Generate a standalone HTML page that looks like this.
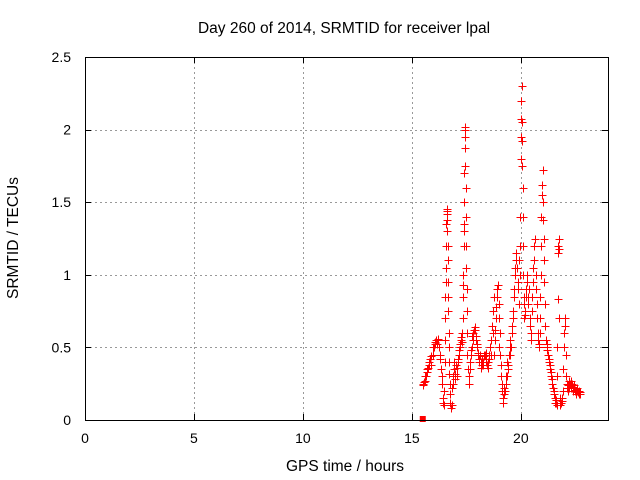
<!DOCTYPE html>
<html><head><meta charset="utf-8"><style>
body{margin:0;background:#fff}
svg{display:block;font-family:"Liberation Sans",sans-serif}
</style></head><body>
<svg id="chart" width="640" height="480" viewBox="0 0 640 480">
<rect width="640" height="480" fill="#fff"/>
<text x="344" y="33" font-size="15.5" text-anchor="middle">Day 260 of 2014, SRMTID for receiver lpal</text>
<text transform="translate(18,238) rotate(-90)" font-size="15.5" text-anchor="middle">SRMTID / TECUs</text>
<text x="345" y="471" font-size="15.5" text-anchor="middle">GPS time / hours</text>
<g id="grid"></g>
<g id="ticks"></g>
<g id="marks"></g>
<rect x="85.5" y="57.5" width="523" height="363" fill="none" stroke="#000" stroke-width="1"/>
</svg>
<script>
const xTicks=[0,5,10,15,20];
const yTicks=[0,0.5,1,1.5,2,2.5];
const yTickLabels=["0","0.5","1","1.5","2","2.5"];
const times=[15.5,15.55,15.6,15.65,15.7,15.75,15.8,15.85,15.9,15.95,16.0,16.05,16.1,16.15,16.2,16.25,16.3,16.35,16.4,16.43,16.46,16.49,16.51,16.53,16.55,16.57,16.59,16.61,16.63,16.65,16.67,16.69,16.71,16.73,16.76,16.79,16.82,16.85,16.9,16.95,17.0,17.05,17.1,17.15,17.2,17.25,17.3,17.33,17.36,17.39,17.41,17.43,17.45,17.47,17.49,17.51,17.53,17.56,17.6,17.65,17.7,17.75,17.8,17.85,17.9,17.95,18.0,18.05,18.1,18.15,18.2,18.25,18.3,18.35,18.4,18.45,18.5,18.55,18.6,18.65,18.7,18.75,18.8,18.85,18.9,18.95,19.0,19.03,19.06,19.1,19.15,19.2,19.25,19.3,19.35,19.4,19.45,19.5,19.55,19.6,19.65,19.7,19.75,19.8,19.85,19.9,19.95,19.98,20.0,20.02,20.04,20.06,20.08,20.1,20.13,20.16,20.2,20.25,20.3,20.35,20.4,20.45,20.5,20.55,20.6,20.65,20.7,20.75,20.8,20.85,20.88,20.91,20.94,20.97,21.0,21.03,21.06,21.1,21.15,21.2,21.25,21.3,21.35,21.4,21.45,21.5,21.55,21.6,21.65,21.68,21.7,21.72,21.74,21.77,21.8,21.85,21.9,21.95,22.0,22.03,22.06,22.1,22.15,22.2,22.25,22.3,22.35,22.4,22.45,22.5,22.55,22.6,22.65,22.7];
const values=[0.24,0.26,0.27,0.3,0.33,0.36,0.4,0.42,0.38,0.45,0.5,0.54,0.55,0.52,0.56,0.5,0.42,0.35,0.25,0.15,0.1,0.2,0.4,0.7,0.95,1.2,1.45,1.42,1.3,1.1,0.85,0.6,0.4,0.25,0.12,0.08,0.1,0.22,0.3,0.35,0.32,0.36,0.4,0.45,0.5,0.55,0.54,0.7,1.0,1.35,1.7,2.02,1.95,1.6,1.2,0.9,0.6,0.35,0.25,0.35,0.45,0.5,0.55,0.62,0.64,0.55,0.5,0.46,0.42,0.4,0.38,0.4,0.44,0.45,0.42,0.38,0.4,0.45,0.5,0.55,0.6,0.45,0.55,0.7,0.85,0.93,0.8,0.6,0.45,0.3,0.2,0.15,0.18,0.25,0.3,0.35,0.45,0.55,0.5,0.6,0.75,0.9,1.05,1.1,0.95,0.8,1.0,1.4,1.8,2.2,2.3,2.05,1.6,1.2,0.85,0.7,0.75,0.9,1.0,0.85,0.7,0.6,0.75,0.95,1.1,1.25,1.0,0.7,0.55,0.5,0.7,1.0,1.4,1.62,1.72,1.5,1.1,0.8,0.55,0.5,0.45,0.4,0.35,0.3,0.25,0.2,0.15,0.12,0.1,0.5,0.83,1.2,1.25,0.7,0.15,0.12,0.15,0.35,0.6,0.7,0.45,0.25,0.2,0.22,0.25,0.27,0.25,0.23,0.22,0.2,0.19,0.2,0.18,0.19];
const times2=[16.52,16.54,16.56,16.58,16.6,16.62,16.64,16.66,16.68,16.7,16.72,16.74,17.32,17.34,17.35,17.37,17.38,17.4,17.42,17.44,17.46,17.48,17.5,17.52,17.54,15.52,15.58,15.68,15.78,15.88,15.98,16.08,16.18,16.28,16.38,16.45,16.87,16.92,16.97,17.02,17.08,17.12,17.18,17.22,17.27,17.62,17.68,17.72,17.78,17.82,17.88,17.92,17.98,18.02,18.08,18.12,18.18,18.22,18.28,18.32,18.38,18.42,18.48,18.52,18.58,18.62,18.68,18.72,18.78,18.82,18.88,18.92,18.98,19.02,19.08,19.12,19.18,19.22,19.28,19.32,19.38,19.42,19.48,19.52,19.58,19.62,19.68,19.72,19.78,19.82,19.88,19.92,19.96,20.01,20.03,20.05,20.07,20.09,20.12,20.15,20.18,20.22,20.28,20.32,20.38,20.42,20.48,20.52,20.58,20.62,20.68,20.72,20.78,20.82,20.86,20.9,20.93,20.96,20.99,21.02,21.05,21.08,21.12,21.18,21.22,21.28,21.32,21.38,21.42,21.48,21.52,21.58,21.62,21.66,21.71,21.73,21.82,21.88,21.92,21.97,22.02,22.08,22.12,22.18,22.22,22.28,22.32,22.38,22.42,22.48,22.52,22.58,22.62,22.68,22.72];
const values2=[0.55,0.85,1.05,1.35,1.44,1.38,1.2,0.95,0.75,0.5,0.32,0.18,0.6,0.85,0.93,1.2,1.3,1.5,1.87,2.0,1.75,1.4,1.05,0.75,0.45,0.25,0.3,0.35,0.38,0.44,0.5,0.52,0.55,0.45,0.3,0.12,0.25,0.4,0.28,0.38,0.3,0.42,0.48,0.52,0.57,0.3,0.4,0.48,0.58,0.6,0.62,0.58,0.52,0.45,0.4,0.45,0.36,0.42,0.38,0.45,0.4,0.46,0.36,0.42,0.5,0.45,0.65,0.75,0.85,0.62,0.78,0.9,0.7,0.5,0.38,0.25,0.12,0.22,0.2,0.3,0.4,0.38,0.5,0.45,0.65,0.7,0.85,1.0,1.15,1.05,0.9,1.1,1.2,1.95,2.07,1.92,1.75,1.4,1.0,0.8,0.72,0.85,0.95,0.8,0.9,0.65,0.55,0.85,1.05,1.2,0.9,0.8,0.6,0.52,0.6,0.85,1.2,1.55,1.62,1.38,1.25,0.95,0.65,0.52,0.48,0.42,0.38,0.33,0.28,0.22,0.18,0.12,0.14,0.3,1.15,1.18,0.1,0.13,0.2,0.5,0.65,0.3,0.22,0.24,0.27,0.25,0.22,0.2,0.24,0.21,0.18,0.22,0.19,0.2,0.18];
const zeroTimes=[15.5];
const zeroValues=[0];

const X0=85,X1=608,Y0=420,Y1=57,XMAX=24,YMAX=2.5;
const xs=t=>X0+t/XMAX*(X1-X0);
const ys=v=>Y0-v/YMAX*(Y0-Y1);
const NS="http://www.w3.org/2000/svg";
function mk(tag,attrs,parent){const e=document.createElementNS(NS,tag);for(const k in attrs)e.setAttribute(k,attrs[k]);parent.appendChild(e);return e;}
const grid=document.getElementById('grid'),ticks=document.getElementById('ticks'),marks=document.getElementById('marks');
xTicks.forEach(t=>{
  const x=Math.round(xs(t))+0.5;
  if(t>0){const g=mk('line',{x1:x,x2:x,y1:Y1,y2:Y0,stroke:'#999','stroke-dasharray':'2,3'},grid);
  
  }
  mk('line',{x1:x,x2:x,y1:Y0,y2:Y0-6,stroke:'#000'},ticks);
  mk('line',{x1:x,x2:x,y1:Y1,y2:Y1+6,stroke:'#000'},ticks);
  const l=mk('text',{x:xs(t),y:443,'font-size':14,'text-anchor':'middle'},ticks);
  l.textContent=String(t);
  
  
});
yTicks.forEach((v,i)=>{
  const y=Math.round(ys(v))+0.5;
  if(v>0&&v<YMAX){const g=mk('line',{x1:X0,x2:X1,y1:y,y2:y,stroke:'#999','stroke-dasharray':'2,3'},grid);
  
  }
  mk('line',{x1:X0,x2:X0+6,y1:y,y2:y,stroke:'#000'},ticks);
  mk('line',{x1:X1,x2:X1-6,y1:y,y2:y,stroke:'#000'},ticks);
  const l=mk('text',{x:71,y:ys(v)+5,'font-size':14,'text-anchor':'end'},ticks);
  l.textContent=yTickLabels[i];
  
  
});
function drawSeries(ts,vs){
  ts.forEach((t,i)=>{
    const x=Math.round(xs(t))+0.5,y=Math.round(ys(vs[i]))+0.5;
    const p=mk('path',{d:`M${x-4} ${y}H${x+4}M${x} ${y-4}V${y+4}`,fill:'none'},marks);
    p.style.stroke='#ff0000';
    p.style.strokeWidth='1';
    
    
  });
}
drawSeries(times,values);
drawSeries(times2,values2);
zeroTimes.forEach((t,i)=>{
  const r=mk('rect',{x:xs(t)-3,y:ys(zeroValues[i])-4,width:6,height:6,fill:'#f00'},marks);
  
  
});
</script>
</body></html>
